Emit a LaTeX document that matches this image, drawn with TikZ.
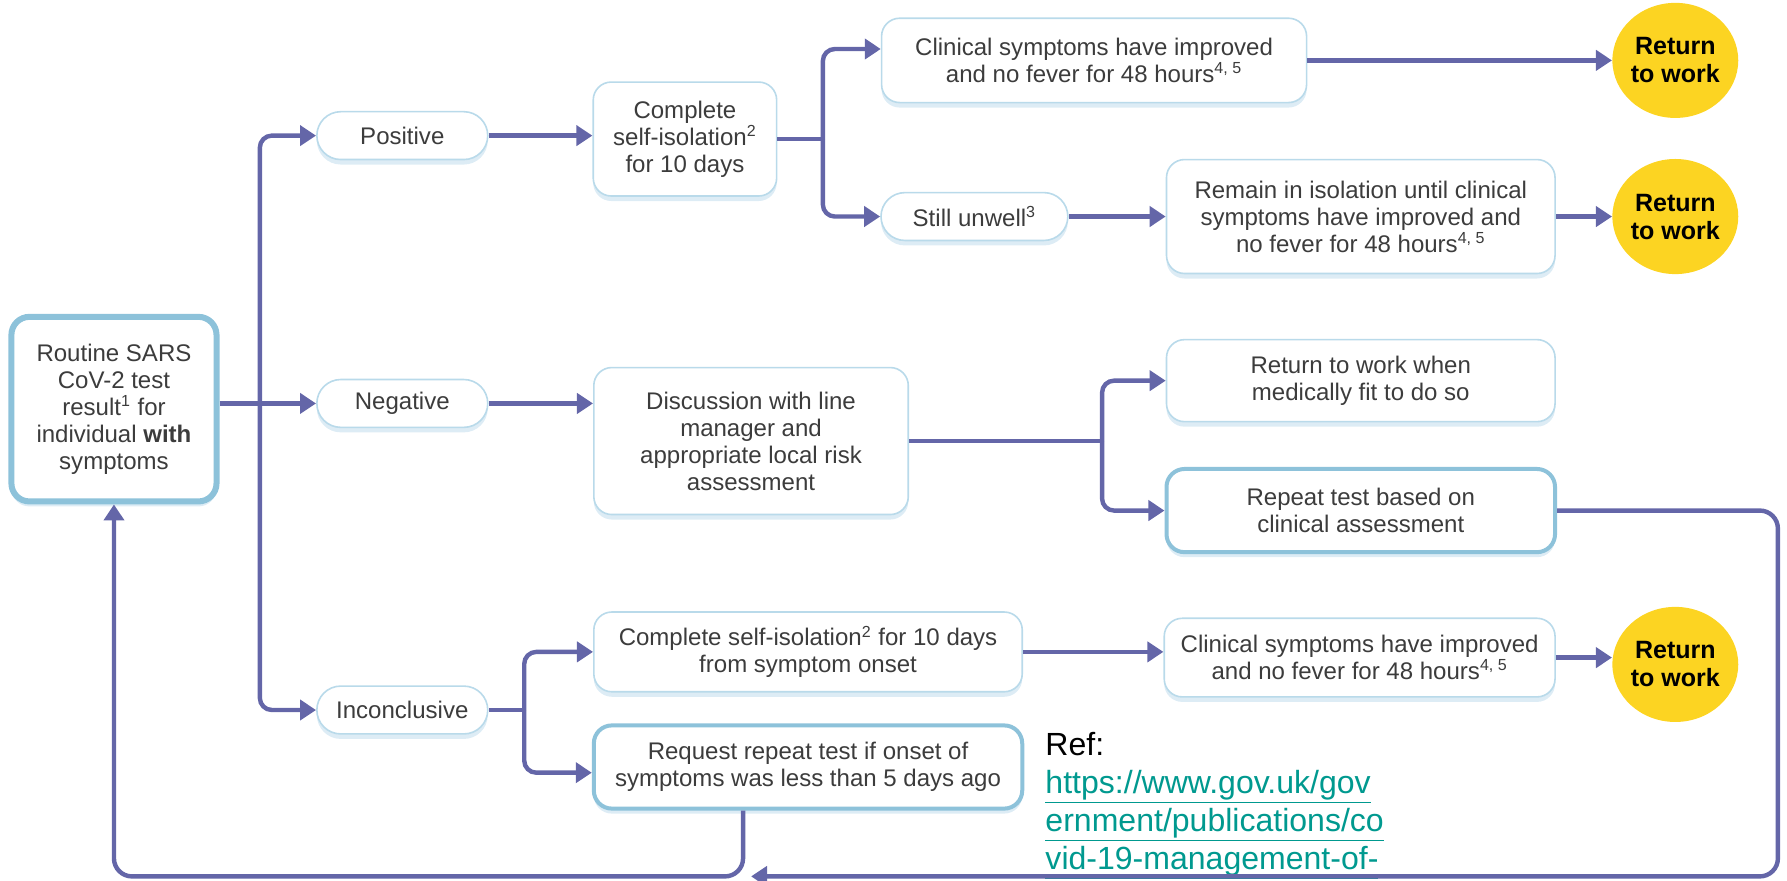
\documentclass[tikz,border=0pt]{standalone}
\usepackage{fontspec}
\setmainfont{Liberation Sans}
\usetikzlibrary{arrows.meta,shapes.geometric,shadows}
\definecolor{linkblue}{HTML}{6466A8}
\definecolor{edgeblue}{HTML}{B9DAEA}
\definecolor{thickblue}{HTML}{8DC2DA}
\definecolor{glowblue}{HTML}{DDECF5}
\definecolor{rtwyellow}{HTML}{FCD422}
\definecolor{textgrey}{HTML}{3C3C3C}
\definecolor{urlteal}{HTML}{00998F}

\begin{document}
\begin{tikzpicture}[x=0.02cm,y=-0.02cm,
    box/.style={draw=edgeblue, line width=0.8pt, fill=white, rounded corners=9pt,
      align=center, inner sep=0pt, text=textgrey, font=\fontsize{12}{13.5}\selectfont,
      drop shadow={shadow xshift=0pt, shadow yshift=-2.5pt, fill=glowblue, opacity=1}},
    pill/.style={box, rounded corners=0.42cm},
    keybox/.style={box, draw=thickblue, line width=2pt},
    rtw/.style={ellipse, fill=rtwyellow, minimum width=1.9cm, minimum height=2.02cm,
      inner sep=0pt, align=center, font=\fontsize{12.5}{14}\selectfont\bfseries},
    link/.style={draw=linkblue, line width=2.2pt, rounded corners=6pt,
      -{Triangle[length=8pt,width=10pt]}},
    plain/.style={link, -}]
        \useasboundingbox (0,0) rectangle (1568,773);

        % test result
        \node[keybox, line width=3pt, minimum width=3.6cm, minimum height=3.24cm] (start) at (100,359)
            {Routine SARS\\CoV-2 test\\result\textsuperscript{1} for\\individual \textbf{with}\\symptoms};
        \node[pill, minimum width=3cm, minimum height=0.84cm] (pos) at (353,119) {Positive};
        \node[pill, minimum width=3cm, minimum height=0.84cm] (neg) at (353,354) {Negative};
        \node[pill, minimum width=3cm, minimum height=0.84cm] (inc) at (353,623) {Inconclusive};

        % positive branch
        \node[box, minimum width=3.22cm, minimum height=2cm] (isoA) at (601,122)
            {Complete\\self-isolation\textsuperscript{2}\\for 10 days};
        \node[box, minimum width=7.46cm, minimum height=1.48cm] (clinA) at (960,53)
            {Clinical symptoms have improved\\and no fever for 48 hours\textsuperscript{4, 5}};
        \node[pill, minimum width=3.28cm, minimum height=0.84cm] (unwell) at (855,190)
            {Still unwell\textsuperscript{3}};
        \node[box, minimum width=6.82cm, minimum height=2cm] (remain) at (1194,190)
            {Remain in isolation until clinical\\symptoms have improved and\\no fever for 48 hours\textsuperscript{4, 5}};
        \node[rtw] (rtwA) at (1470,53) {Return\\to work};
        \node[rtw] (rtwB) at (1470,190) {Return\\to work};

        % negative branch
        \node[box, minimum width=5.52cm, minimum height=2.58cm] (discuss) at (659,387)
            {Discussion with line\\manager and\\appropriate local risk\\assessment};
        \node[box, minimum width=6.82cm, minimum height=1.44cm] (fit) at (1194,334)
            {Return to work when\\medically fit to do so};
        \node[keybox, minimum width=6.82cm, minimum height=1.46cm] (repeat) at (1194,448)
            {Repeat test based on\\clinical assessment};

        % inconclusive branch
        \node[box, minimum width=7.52cm, minimum height=1.4cm] (isoC) at (709,572)
            {Complete self-isolation\textsuperscript{2} for 10 days\\from symptom onset};
        \node[keybox, minimum width=7.52cm, minimum height=1.46cm] (request) at (709,673)
            {Request repeat test if onset of\\symptoms was less than 5 days ago};
        \node[box, minimum width=6.86cm, minimum height=1.38cm] (clinC) at (1193,577)
            {Clinical symptoms have improved\\and no fever for 48 hours\textsuperscript{4, 5}};
        \node[rtw] (rtwC) at (1470,583) {Return\\to work};

        \node[anchor=north west, align=left, inner sep=0pt, font=\fontsize{16}{19}\selectfont] (ref) at (917,642)
            {Ref:\\\textcolor{urlteal}{\underline{https://www.gov.uk/gov}}\\
             \textcolor{urlteal}{\underline{ernment/publications/co}}\\
             \textcolor{urlteal}{\underline{vid-19-management-of-}}};

        \coordinate (trunk) at (228,354);
        \coordinate (splitA) at (722,122);
        \coordinate (splitN) at (967,387);
        \coordinate (splitI) at (460,623);
        \coordinate (loopR) at (1560,769);
        \coordinate (join) at (652,769);

        \draw[link] (start.east |- neg.west) -- (neg.west);
        \draw[link] (trunk) |- (pos.west);
        \draw[link] (trunk) |- (inc.west);

        \draw[link] (pos.east) -- (isoA.west |- pos.east);
        \draw[plain] (isoA.east) -- (splitA);
        \draw[link] (splitA) |- ([yshift=0.2cm]clinA.west);
        \draw[link] (splitA) |- (unwell.west);
        \draw[link] (clinA) -- (rtwA);
        \draw[link] (unwell) -- (remain);
        \draw[link] (remain) -- (rtwB);

        \draw[link] (neg.east) -- (discuss.west |- neg.east);
        \draw[plain] (discuss.east) -- (splitN);
        \draw[link] (splitN) |- (fit.west);
        \draw[link] (splitN) |- (repeat.west);

        \draw[plain] (inc.east) -- (splitI);
        \draw[link] (splitI) |- (isoC.west);
        \draw[link] (splitI) |- ([yshift=-0.1cm]request.west);
        \draw[link] (isoC.east) -- (clinC.west |- isoC.east);
        \draw[link] (clinC.east) -- (rtwC.west |- clinC.east);

        % back to the start
        \draw[link, rounded corners=9pt] (repeat.east) -| (loopR) -- ([xshift=4pt]join);
        \draw[link, rounded corners=9pt] (request.south -| join) -- (join) -| (start.south);
    \end{tikzpicture}
\end{document}
